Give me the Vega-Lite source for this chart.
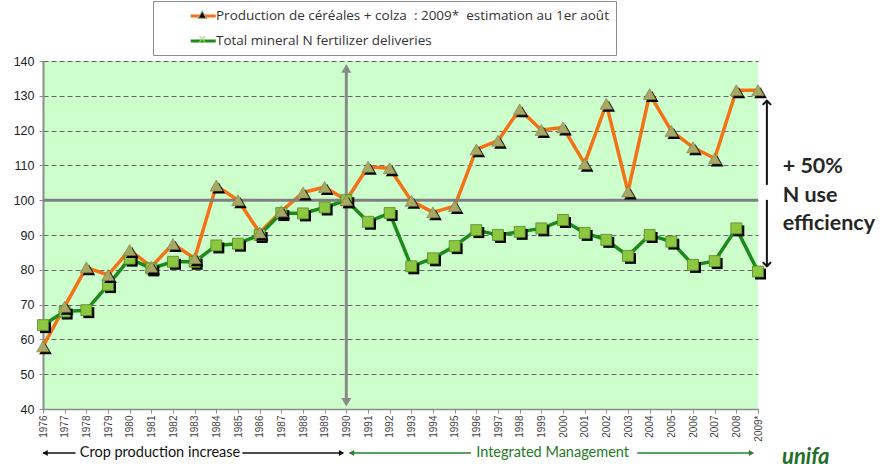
{
  "$schema": "https://vega.github.io/schema/vega-lite/v6.json",
  "width": 715,
  "height": 348,
  "autosize": {"type": "none"},
  "padding": {"left": 43, "top": 61, "right": 125, "bottom": 55},
  "background": "white",
  "config": {
    "view": {"fill": "#ccffcc", "stroke": null},
    "font": "Liberation Sans"
  },
  "datasets": {
    "series": [
      {"year": 1976, "series": "Production de céréales + colza  : 2009*  estimation au 1er août", "value": 58.0},
      {"year": 1977, "series": "Production de céréales + colza  : 2009*  estimation au 1er août", "value": 69.4},
      {"year": 1978, "series": "Production de céréales + colza  : 2009*  estimation au 1er août", "value": 80.7},
      {"year": 1979, "series": "Production de céréales + colza  : 2009*  estimation au 1er août", "value": 78.5},
      {"year": 1980, "series": "Production de céréales + colza  : 2009*  estimation au 1er août", "value": 85.7},
      {"year": 1981, "series": "Production de céréales + colza  : 2009*  estimation au 1er août", "value": 80.9},
      {"year": 1982, "series": "Production de céréales + colza  : 2009*  estimation au 1er août", "value": 87.4},
      {"year": 1983, "series": "Production de céréales + colza  : 2009*  estimation au 1er août", "value": 83.3},
      {"year": 1984, "series": "Production de céréales + colza  : 2009*  estimation au 1er août", "value": 104.2},
      {"year": 1985, "series": "Production de céréales + colza  : 2009*  estimation au 1er août", "value": 100.0},
      {"year": 1986, "series": "Production de céréales + colza  : 2009*  estimation au 1er août", "value": 90.7},
      {"year": 1987, "series": "Production de céréales + colza  : 2009*  estimation au 1er août", "value": 96.8},
      {"year": 1988, "series": "Production de céréales + colza  : 2009*  estimation au 1er août", "value": 102.2},
      {"year": 1989, "series": "Production de céréales + colza  : 2009*  estimation au 1er août", "value": 103.8},
      {"year": 1990, "series": "Production de céréales + colza  : 2009*  estimation au 1er août", "value": 100.0},
      {"year": 1991, "series": "Production de céréales + colza  : 2009*  estimation au 1er août", "value": 109.6},
      {"year": 1992, "series": "Production de céréales + colza  : 2009*  estimation au 1er août", "value": 109.2},
      {"year": 1993, "series": "Production de céréales + colza  : 2009*  estimation au 1er août", "value": 99.8},
      {"year": 1994, "series": "Production de céréales + colza  : 2009*  estimation au 1er août", "value": 96.5},
      {"year": 1995, "series": "Production de céréales + colza  : 2009*  estimation au 1er août", "value": 98.3},
      {"year": 1996, "series": "Production de céréales + colza  : 2009*  estimation au 1er août", "value": 114.6},
      {"year": 1997, "series": "Production de céréales + colza  : 2009*  estimation au 1er août", "value": 117.1},
      {"year": 1998, "series": "Production de céréales + colza  : 2009*  estimation au 1er août", "value": 126.1},
      {"year": 1999, "series": "Production de céréales + colza  : 2009*  estimation au 1er août", "value": 120.2},
      {"year": 2000, "series": "Production de céréales + colza  : 2009*  estimation au 1er août", "value": 120.9},
      {"year": 2001, "series": "Production de céréales + colza  : 2009*  estimation au 1er août", "value": 110.5},
      {"year": 2002, "series": "Production de céréales + colza  : 2009*  estimation au 1er août", "value": 127.7},
      {"year": 2003, "series": "Production de céréales + colza  : 2009*  estimation au 1er août", "value": 102.5},
      {"year": 2004, "series": "Production de céréales + colza  : 2009*  estimation au 1er août", "value": 130.5},
      {"year": 2005, "series": "Production de céréales + colza  : 2009*  estimation au 1er août", "value": 119.9},
      {"year": 2006, "series": "Production de céréales + colza  : 2009*  estimation au 1er août", "value": 115.2},
      {"year": 2007, "series": "Production de céréales + colza  : 2009*  estimation au 1er août", "value": 112.0},
      {"year": 2008, "series": "Production de céréales + colza  : 2009*  estimation au 1er août", "value": 131.6},
      {"year": 2009, "series": "Production de céréales + colza  : 2009*  estimation au 1er août", "value": 131.6},
      {"year": 1976, "series": "Total mineral N fertilizer deliveries", "value": 64.1},
      {"year": 1977, "series": "Total mineral N fertilizer deliveries", "value": 68.0},
      {"year": 1978, "series": "Total mineral N fertilizer deliveries", "value": 68.4},
      {"year": 1979, "series": "Total mineral N fertilizer deliveries", "value": 75.6},
      {"year": 1980, "series": "Total mineral N fertilizer deliveries", "value": 83.2},
      {"year": 1981, "series": "Total mineral N fertilizer deliveries", "value": 80.4},
      {"year": 1982, "series": "Total mineral N fertilizer deliveries", "value": 82.3},
      {"year": 1983, "series": "Total mineral N fertilizer deliveries", "value": 82.3},
      {"year": 1984, "series": "Total mineral N fertilizer deliveries", "value": 87.0},
      {"year": 1985, "series": "Total mineral N fertilizer deliveries", "value": 87.5},
      {"year": 1986, "series": "Total mineral N fertilizer deliveries", "value": 90.0},
      {"year": 1987, "series": "Total mineral N fertilizer deliveries", "value": 96.3},
      {"year": 1988, "series": "Total mineral N fertilizer deliveries", "value": 96.2},
      {"year": 1989, "series": "Total mineral N fertilizer deliveries", "value": 97.9},
      {"year": 1990, "series": "Total mineral N fertilizer deliveries", "value": 100.0},
      {"year": 1991, "series": "Total mineral N fertilizer deliveries", "value": 93.8},
      {"year": 1992, "series": "Total mineral N fertilizer deliveries", "value": 96.3},
      {"year": 1993, "series": "Total mineral N fertilizer deliveries", "value": 81.0},
      {"year": 1994, "series": "Total mineral N fertilizer deliveries", "value": 83.3},
      {"year": 1995, "series": "Total mineral N fertilizer deliveries", "value": 86.8},
      {"year": 1996, "series": "Total mineral N fertilizer deliveries", "value": 91.4},
      {"year": 1997, "series": "Total mineral N fertilizer deliveries", "value": 90.0},
      {"year": 1998, "series": "Total mineral N fertilizer deliveries", "value": 90.9},
      {"year": 1999, "series": "Total mineral N fertilizer deliveries", "value": 91.9},
      {"year": 2000, "series": "Total mineral N fertilizer deliveries", "value": 94.3},
      {"year": 2001, "series": "Total mineral N fertilizer deliveries", "value": 90.6},
      {"year": 2002, "series": "Total mineral N fertilizer deliveries", "value": 88.6},
      {"year": 2003, "series": "Total mineral N fertilizer deliveries", "value": 84.0},
      {"year": 2004, "series": "Total mineral N fertilizer deliveries", "value": 90.0},
      {"year": 2005, "series": "Total mineral N fertilizer deliveries", "value": 88.1},
      {"year": 2006, "series": "Total mineral N fertilizer deliveries", "value": 81.4},
      {"year": 2007, "series": "Total mineral N fertilizer deliveries", "value": 82.5},
      {"year": 2008, "series": "Total mineral N fertilizer deliveries", "value": 91.9},
      {"year": 2009, "series": "Total mineral N fertilizer deliveries", "value": 79.5}
    ]
  },
  "data": {"name": "series"},
  "layer": [
    {
      "mark": {"type": "line", "strokeWidth": 3.5, "strokeJoin": "round"},
      "encoding": {
        "x": {
          "field": "year", "type": "quantitative",
          "scale": {"domain": [1976, 2009], "nice": false, "zero": false},
          "axis": {
            "title": null, "grid": false,
            "values": [1976,1977,1978,1979,1980,1981,1982,1983,1984,1985,1986,1987,1988,1989,1990,1991,1992,1993,1994,1995,1996,1997,1998,1999,2000,2001,2002,2003,2004,2005,2006,2007,2008,2009],
            "tickCount": 40,
            "format": "d",
            "labelExpr": "datum.value == 2009 ? '2009*' : datum.label",
            "labelOverlap": false, "labelFlush": false,
            "labelAngle": -90, "labelFontSize": 10, "labelColor": "#444444",
            "labelPadding": 2, "tickSize": 4, "tickColor": "#8c8c8c",
            "domainColor": "#8c8c8c", "domainWidth": 1.5, "labelFont": "Liberation Sans"
          }
        },
        "y": {
          "field": "value", "type": "quantitative",
          "scale": {"domain": [40, 140], "nice": false, "zero": false},
          "axis": {
            "title": null, "grid": true,
            "values": [40,50,60,70,80,90,100,110,120,130,140],
            "tickCount": 12,
            "labelOverlap": false, "labelFlush": false,
            "gridDash": [5, 3], "gridColor": "#666666", "gridWidth": 1.2,
            "labelFontSize": 12.5, "labelColor": "#222222", "labelPadding": 5,
            "tickSize": 4, "tickColor": "#8c8c8c",
            "domainColor": "#8c8c8c", "domainWidth": 2, "labelFont": "Liberation Sans"
          }
        },
        "color": {
          "field": "series", "type": "nominal",
          "scale": {
            "domain": ["Production de céréales + colza  : 2009*  estimation au 1er août", "Total mineral N fertilizer deliveries"],
            "range": ["#f47216", "#1b8a1b"]
          },
          "legend": {
            "title": null, "orient": "none", "legendX": 110, "legendY": -60,
            "direction": "vertical", "strokeColor": "#8c8c8c", "fillColor": "white",
            "padding": 7, "rowPadding": 10, "symbolOffset": 29,
            "symbolType": "M-1,0H3", "symbolSize": 156, "symbolStrokeWidth": 3,
            "labelFont": "Open Sans", "labelFontSize": 13.5, "labelColor": "#333333",
            "labelOffset": 11, "labelLimit": 700,
            "labelExpr": "replace(replace(datum.label, '  ', ' \u00a0'), '  ', ' \u00a0') + '\u00a0\u00a0\u00a0\u00a0\u00a0\u00a0\u00a0\u00a0\u00a0\u00a0\u00a0\u00a0\u00a0'"
          }
        }
      }
    },
    {
      "data": {"values": [{}]},
      "mark": {"type": "rule", "color": "#7f7f7f", "strokeWidth": 3},
      "encoding": {"y": {"datum": 100}}
    },
    {
      "data": {"values": [{}]},
      "mark": {"type": "rule", "color": "#8a8a8a", "strokeWidth": 3},
      "encoding": {"x": {"datum": 1990}, "y": {"datum": 41.95}, "y2": {"datum": 137.9}}
    },
    {
      "data": {"values": [{}]},
      "mark": {"type": "point", "shape": "triangle-up", "size": 100, "filled": true, "color": "#8a8a8a", "opacity": 1},
      "encoding": {"x": {"datum": 1990}, "y": {"datum": 137.9}}
    },
    {
      "data": {"values": [{}]},
      "mark": {"type": "point", "shape": "triangle-down", "size": 100, "filled": true, "color": "#8a8a8a", "opacity": 1},
      "encoding": {"x": {"datum": 1990}, "y": {"datum": 41.95}}
    },
    {
      "transform": [{"filter": "datum.series == 'Total mineral N fertilizer deliveries'"}],
      "mark": {"type": "point", "shape": "square", "size": 120, "filled": true, "color": "black", "opacity": 1, "xOffset": 2.5, "yOffset": 2.5},
      "encoding": {"x": {"field": "year", "type": "quantitative"}, "y": {"field": "value", "type": "quantitative"}}
    },
    {
      "transform": [{"filter": "datum.series == 'Total mineral N fertilizer deliveries'"}],
      "mark": {"type": "point", "shape": "square", "size": 120, "filled": true, "opacity": 1, "stroke": "#4f8a1f", "strokeWidth": 0.8},
      "encoding": {
        "x": {"field": "year", "type": "quantitative"},
        "y": {"field": "value", "type": "quantitative"},
        "fill": {"field": "series", "type": "nominal", "scale": {"range": ["#a8a865", "#8dc641"]}, "legend": null}
      }
    },
    {
      "transform": [{"filter": "datum.series != 'Total mineral N fertilizer deliveries'"}],
      "mark": {"type": "point", "shape": "triangle-up", "size": 160, "filled": true, "color": "black", "opacity": 1, "xOffset": 2.5, "yOffset": 2.5},
      "encoding": {"x": {"field": "year", "type": "quantitative"}, "y": {"field": "value", "type": "quantitative"}}
    },
    {
      "transform": [{"filter": "datum.series != 'Total mineral N fertilizer deliveries'"}],
      "mark": {"type": "point", "shape": "triangle-up", "size": 160, "filled": true, "opacity": 1, "stroke": "#7a7a45", "strokeWidth": 0.6},
      "encoding": {
        "x": {"field": "year", "type": "quantitative"},
        "y": {"field": "value", "type": "quantitative"},
        "fill": {"field": "series", "type": "nominal", "legend": null}
      }
    },
    {
      "mark": {"type": "point", "filled": true, "opacity": 0, "size": 1},
      "encoding": {
        "x": {"field": "year", "type": "quantitative"},
        "y": {"field": "value", "type": "quantitative"},
        "fill": {
          "field": "series", "type": "nominal",
          "legend": {
            "title": null, "orient": "none", "legendX": 110, "legendY": -60,
            "direction": "vertical", "padding": 7, "rowPadding": 10, "symbolOffset": 29,
            "symbolSize": 156, "symbolStrokeWidth": 1.2, "symbolOpacity": 1,
            "labelFont": "Open Sans", "labelFontSize": 13.5, "labelOffset": 11,
            "labelExpr": "'\u00a0'"
          }
        },
        "shape": {
          "field": "series", "type": "nominal",
          "scale": {"range": ["M0.3,0.55L1,-0.65L1.7,0.55Z", "M0.55,-0.45L1.45,0.45M0.55,0.45L1.45,-0.45"]},
          "legend": {
            "title": null, "orient": "none", "legendX": 110, "legendY": -60,
            "direction": "vertical", "padding": 7, "rowPadding": 10, "symbolOffset": 29,
            "symbolSize": 156, "symbolStrokeWidth": 1.2, "symbolOpacity": 1,
            "labelFont": "Open Sans", "labelFontSize": 13.5, "labelOffset": 11,
            "labelExpr": "'\u00a0'"
          }
        },
        "stroke": {
          "field": "series", "type": "nominal",
          "scale": {"range": ["#aeae6c", "#a6d86a"]},
          "legend": {
            "title": null, "orient": "none", "legendX": 110, "legendY": -60,
            "direction": "vertical", "padding": 7, "rowPadding": 10, "symbolOffset": 29,
            "symbolSize": 156, "symbolStrokeWidth": 1.2, "symbolOpacity": 1,
            "labelFont": "Open Sans", "labelFontSize": 13.5, "labelOffset": 11,
            "labelExpr": "'\u00a0'"
          }
        }
      }
    },
    {
      "data": {"values": [{}]},
      "mark": {"type": "rule", "color": "#111111", "strokeWidth": 2},
      "encoding": {"x": {"datum": 2009.41}, "y": {"datum": 128.6}, "y2": {"datum": 104.4}}
    },
    {
      "data": {"values": [{}]},
      "mark": {"type": "rule", "color": "#111111", "strokeWidth": 2},
      "encoding": {"x": {"datum": 2009.41}, "y": {"datum": 100.1}, "y2": {"datum": 81.0}}
    },
    {
      "data": {"values": [{}]},
      "mark": {"type": "point", "shape": "M-1,1L0,0L1,1", "size": 70, "filled": false, "color": "#111111", "strokeWidth": 2, "opacity": 1},
      "encoding": {"x": {"datum": 2009.41}, "y": {"datum": 128.6}}
    },
    {
      "data": {"values": [{}]},
      "mark": {"type": "point", "shape": "M-1,-1L0,0L1,-1", "size": 70, "filled": false, "color": "#111111", "strokeWidth": 2, "opacity": 1},
      "encoding": {"x": {"datum": 2009.41}, "y": {"datum": 81.0}}
    },
    {
      "data": {"values": [{}]},
      "mark": {"type": "text", "text": ["+ 50%", "N use", "efficiency"], "align": "left", "baseline": "alphabetic", "font": "Lato", "fontWeight": "bold", "fontSize": 21.5, "lineHeight": 28.5, "color": "#262626"},
      "encoding": {"x": {"datum": 2010.14}, "y": {"datum": 107.8}}
    },
    {
      "data": {"values": [{}]},
      "mark": {"type": "rule", "color": "#111111", "strokeWidth": 1.6},
      "encoding": {"x": {"datum": 1976.0}, "x2": {"datum": 1977.5}, "y": {"datum": 27.36}}
    },
    {
      "data": {"values": [{}]},
      "mark": {"type": "rule", "color": "#111111", "strokeWidth": 1.6},
      "encoding": {"x": {"datum": 1985.2}, "x2": {"datum": 1989.85}, "y": {"datum": 27.36}}
    },
    {
      "data": {"values": [{}]},
      "mark": {"type": "point", "shape": "triangle-left", "size": 36, "filled": true, "color": "#111111", "opacity": 1},
      "encoding": {"x": {"datum": 1976.1}, "y": {"datum": 27.36}}
    },
    {
      "data": {"values": [{}]},
      "mark": {"type": "point", "shape": "triangle-right", "size": 36, "filled": true, "color": "#111111", "opacity": 1},
      "encoding": {"x": {"datum": 1989.78}, "y": {"datum": 27.36}}
    },
    {
      "data": {"values": [{}]},
      "mark": {"type": "text", "text": "Crop production increase", "align": "center", "baseline": "middle", "font": "Lato", "fontSize": 14.5, "color": "#111111"},
      "encoding": {"x": {"datum": 1981.4}, "y": {"datum": 27.36}}
    },
    {
      "data": {"values": [{}]},
      "mark": {"type": "rule", "color": "#2a7f2a", "strokeWidth": 1.6},
      "encoding": {"x": {"datum": 1990.15}, "x2": {"datum": 1995.75}, "y": {"datum": 27.36}}
    },
    {
      "data": {"values": [{}]},
      "mark": {"type": "rule", "color": "#2a7f2a", "strokeWidth": 1.6},
      "encoding": {"x": {"datum": 2003.42}, "x2": {"datum": 2008.75}, "y": {"datum": 27.36}}
    },
    {
      "data": {"values": [{}]},
      "mark": {"type": "point", "shape": "triangle-left", "size": 36, "filled": true, "color": "#2a7f2a", "opacity": 1},
      "encoding": {"x": {"datum": 1990.24}, "y": {"datum": 27.36}}
    },
    {
      "data": {"values": [{}]},
      "mark": {"type": "point", "shape": "triangle-right", "size": 36, "filled": true, "color": "#2a7f2a", "opacity": 1},
      "encoding": {"x": {"datum": 2008.7}, "y": {"datum": 27.36}}
    },
    {
      "data": {"values": [{}]},
      "mark": {"type": "text", "text": "Integrated Management", "align": "center", "baseline": "middle", "font": "Lato", "fontSize": 14.5, "color": "#237a23"},
      "encoding": {"x": {"datum": 1999.52}, "y": {"datum": 27.36}}
    },
    {
      "data": {"values": [{}]},
      "mark": {"type": "text", "text": "unifa", "align": "left", "baseline": "alphabetic", "font": "Lato", "fontWeight": "bold", "fontStyle": "italic", "fontSize": 22, "color": "#1f6f2a"},
      "encoding": {"x": {"datum": 2010.11}, "y": {"datum": 24.2}}
    }
  ]
}
